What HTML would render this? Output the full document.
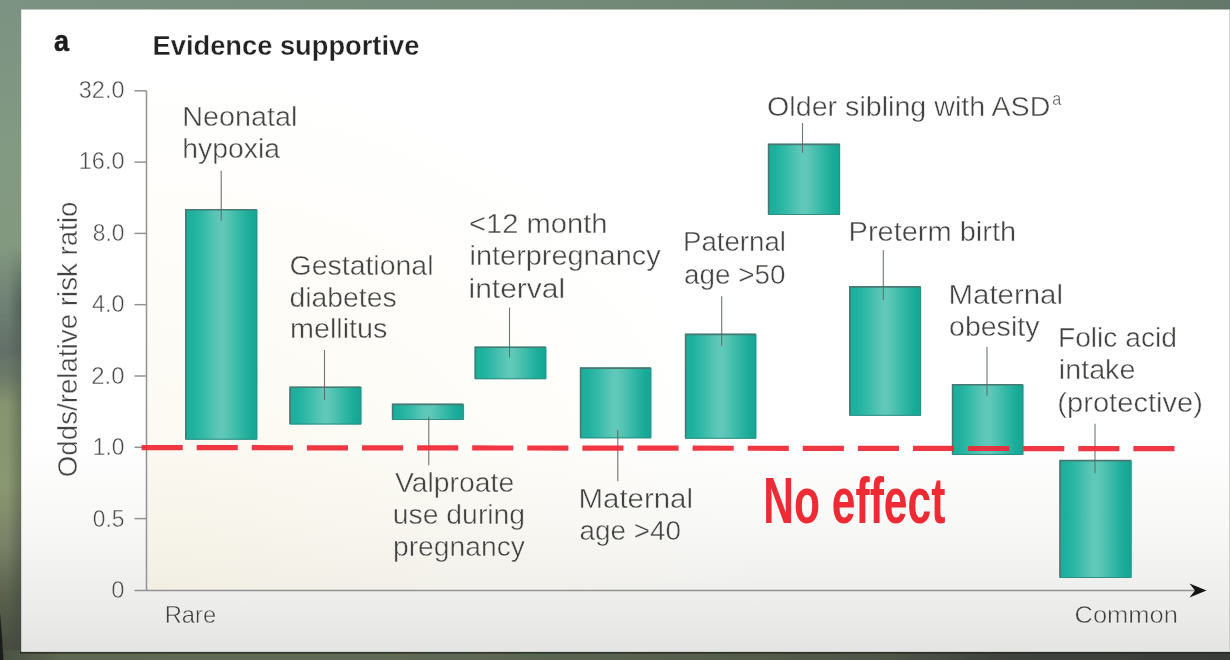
<!DOCTYPE html>
<html><head><meta charset="utf-8"><title>Evidence supportive</title>
<style>
html,body{margin:0;padding:0;background:#6f8373;}
body{width:1230px;height:660px;overflow:hidden;position:relative;font-family:"Liberation Sans",sans-serif;}
svg{position:absolute;left:0;top:0;display:block;}
text{font-family:"Liberation Sans",sans-serif;}
.l{fill:#434343;stroke:#fdfdfb;stroke-width:0.42;}
.k{fill:#4b4b4b;stroke:#fdfdfd;stroke-width:0.42;}
.b{fill:#222222;font-weight:bold;stroke:#ffffff;stroke-width:0.3;}
.ba{fill:#1c1c1c;font-weight:bold;stroke:#1c1c1c;stroke-width:0.5;}
</style></head><body>
<svg width="1230" height="660" viewBox="0 0 1230 660">
<defs>
<linearGradient id="bgTop" x1="0" y1="0" x2="1" y2="0">
 <stop offset="0" stop-color="#7b9283"/><stop offset="0.5" stop-color="#728977"/><stop offset="1" stop-color="#64786a"/>
</linearGradient>
<linearGradient id="bgLeft" x1="0" y1="0" x2="0" y2="1">
 <stop offset="0" stop-color="#7b9283"/>
 <stop offset="0.27" stop-color="#839a82"/>
 <stop offset="0.38" stop-color="#82987f"/>
 <stop offset="0.46" stop-color="#6f8174"/>
 <stop offset="0.53" stop-color="#616f68"/>
 <stop offset="0.57" stop-color="#6d7b68"/>
 <stop offset="0.61" stop-color="#86946f"/>
 <stop offset="0.73" stop-color="#8a9870"/>
 <stop offset="0.82" stop-color="#787f65"/>
 <stop offset="0.89" stop-color="#5a604d"/>
 <stop offset="1" stop-color="#41453a"/>
</linearGradient>
<linearGradient id="bgBot" x1="0" y1="0" x2="1" y2="0">
 <stop offset="0" stop-color="#474c40"/><stop offset="0.06" stop-color="#5d6953"/>
 <stop offset="0.3" stop-color="#5f6b56"/><stop offset="0.5" stop-color="#57624f"/>
 <stop offset="0.72" stop-color="#4d5547"/><stop offset="0.8" stop-color="#3f433d"/>
 <stop offset="1" stop-color="#393b39"/>
</linearGradient>
<linearGradient id="lshadow" x1="0" y1="0" x2="1" y2="0">
 <stop offset="0" stop-color="#3c463f" stop-opacity="0"/><stop offset="1" stop-color="#3c463f" stop-opacity="0.55"/>
</linearGradient>
<linearGradient id="lshadowV" x1="0" y1="0" x2="0" y2="1">
 <stop offset="0" stop-color="#fff" stop-opacity="0"/>
 <stop offset="0.37" stop-color="#fff" stop-opacity="0"/>
 <stop offset="0.46" stop-color="#fff" stop-opacity="1"/>
 <stop offset="0.55" stop-color="#fff" stop-opacity="0.4"/>
 <stop offset="0.60" stop-color="#fff" stop-opacity="0.7"/>
 <stop offset="1" stop-color="#fff" stop-opacity="0.9"/>
</linearGradient>
<mask id="lsm"><rect x="0" y="0" width="30" height="660" fill="url(#lshadowV)"/></mask>
<linearGradient id="card" x1="0" y1="0" x2="0" y2="1">
 <stop offset="0" stop-color="#ffffff"/><stop offset="0.66" stop-color="#ffffff"/>
 <stop offset="0.80" stop-color="#f8f8f7"/><stop offset="0.88" stop-color="#f1f1f0"/>
 <stop offset="0.93" stop-color="#ececeb"/><stop offset="1" stop-color="#e4e4e3"/>
</linearGradient>
<radialGradient id="cream" gradientUnits="userSpaceOnUse" cx="147" cy="590" r="1" gradientTransform="translate(147 590) scale(640 540) translate(-147 -590)">
 <stop offset="0" stop-color="#f5eed8" stop-opacity="0.50"/>
 <stop offset="0.5" stop-color="#f8f3e0" stop-opacity="0.29"/>
 <stop offset="1" stop-color="#fbf7e8" stop-opacity="0"/>
</radialGradient>
<linearGradient id="bar" x1="0" y1="0" x2="1" y2="0">
 <stop offset="0" stop-color="#1aae9b"/><stop offset="0.10" stop-color="#1eb19e"/>
 <stop offset="0.25" stop-color="#34baa8"/><stop offset="0.38" stop-color="#50c3b2"/>
 <stop offset="0.47" stop-color="#60c8b8"/><stop offset="0.53" stop-color="#60c8b8"/>
 <stop offset="0.62" stop-color="#50c2b1"/><stop offset="0.75" stop-color="#34b8a6"/>
 <stop offset="0.90" stop-color="#1aab98"/><stop offset="1" stop-color="#17a694"/>
</linearGradient>
<filter id="softall" filterUnits="userSpaceOnUse" x="-10" y="-10" width="1250" height="680"><feGaussianBlur stdDeviation="0.55"/></filter>
</defs>
<g filter="url(#softall)">
<rect x="-10" y="-10" width="1250" height="680" fill="#6f8373"/>
<rect x="-10" y="-10" width="1250" height="22" fill="url(#bgTop)"/>
<rect x="-10" y="-10" width="34" height="680" fill="url(#bgLeft)"/>
<rect x="8" y="0" width="14" height="660" fill="url(#lshadow)" mask="url(#lsm)"/>
<rect x="-10" y="650" width="1250" height="20" fill="url(#bgBot)"/>
<path d="M-10 612 L-10 670 L4 670 Q2.5 640 0 612 Z" fill="#1c1f1b"/>
<rect x="20" y="651" width="1220" height="2.6" fill="#23261f" opacity="0.8"/>
<rect x="21.2" y="9.5" width="1219" height="642.4" fill="url(#card)"/>
<rect x="1229" y="9.5" width="11" height="642" fill="#cfcfcf"/>
<rect x="147" y="87" width="720" height="503.5" fill="url(#cream)"/>
<g stroke="#939393" stroke-width="1.5" fill="none">
<path d="M146.5 90.8 V590.5"/>
<path d="M134.5 590.5 H1196"/>
<path d="M134.5 90.80 H146.5"/>
<path d="M134.5 162.10 H146.5"/>
<path d="M134.5 233.40 H146.5"/>
<path d="M134.5 304.70 H146.5"/>
<path d="M134.5 376.00 H146.5"/>
<path d="M134.5 447.30 H146.5"/>
<path d="M134.5 518.60 H146.5"/>
</g>
<path d="M1206.5 590.5 L1189.5 583.6 L1195 590.5 L1189.5 597.4 Z" fill="#151515"/>
<rect x="257.0" y="209.7" width="1.6" height="229.5" fill="#d4fdf8" opacity="0.75"/>
<rect x="185.2" y="209.2" width="72.0" height="230.5" fill="url(#bar)"/>
<path d="M185.8 439.2 V209.8 H256.7" fill="none" stroke="#4a7873" stroke-width="1.6"/>
<path d="M256.8 209.8 V439.2 H185.8" fill="none" stroke="#2f8f85" stroke-width="1.0"/>
<rect x="361.1" y="387.2" width="1.6" height="36.8" fill="#d4fdf8" opacity="0.75"/>
<rect x="289.5" y="386.7" width="71.8" height="37.8" fill="url(#bar)"/>
<path d="M290.1 424.0 V387.3 H360.8" fill="none" stroke="#4a7873" stroke-width="1.6"/>
<path d="M360.9 387.3 V424.0 H290.1" fill="none" stroke="#2f8f85" stroke-width="1.0"/>
<rect x="463.5" y="404.3" width="1.6" height="15.2" fill="#d4fdf8" opacity="0.75"/>
<rect x="392.0" y="403.8" width="71.7" height="16.2" fill="url(#bar)"/>
<path d="M392.6 419.5 V404.4 H463.2" fill="none" stroke="#4a7873" stroke-width="1.6"/>
<path d="M463.3 404.4 V419.5 H392.6" fill="none" stroke="#2f8f85" stroke-width="1.0"/>
<rect x="546.0" y="347.2" width="1.6" height="31.5" fill="#d4fdf8" opacity="0.75"/>
<rect x="474.7" y="346.7" width="71.5" height="32.5" fill="url(#bar)"/>
<path d="M475.3 378.7 V347.3 H545.7" fill="none" stroke="#4a7873" stroke-width="1.6"/>
<path d="M545.8 347.3 V378.7 H475.3" fill="none" stroke="#2f8f85" stroke-width="1.0"/>
<rect x="651.0" y="368.0" width="1.6" height="69.8" fill="#d4fdf8" opacity="0.75"/>
<rect x="580.0" y="367.5" width="71.2" height="70.8" fill="url(#bar)"/>
<path d="M580.6 437.8 V368.1 H650.7" fill="none" stroke="#4a7873" stroke-width="1.6"/>
<path d="M650.8 368.1 V437.8 H580.6" fill="none" stroke="#2f8f85" stroke-width="1.0"/>
<rect x="756.0" y="334.3" width="1.6" height="103.9" fill="#d4fdf8" opacity="0.75"/>
<rect x="685.0" y="333.8" width="71.2" height="104.9" fill="url(#bar)"/>
<path d="M685.6 438.2 V334.4 H755.7" fill="none" stroke="#4a7873" stroke-width="1.6"/>
<path d="M755.8 334.4 V438.2 H685.6" fill="none" stroke="#2f8f85" stroke-width="1.0"/>
<rect x="839.8" y="144.3" width="1.6" height="70.2" fill="#d4fdf8" opacity="0.75"/>
<rect x="768.0" y="143.8" width="72.0" height="71.2" fill="url(#bar)"/>
<path d="M768.6 214.5 V144.4 H839.5" fill="none" stroke="#4a7873" stroke-width="1.6"/>
<path d="M839.6 144.4 V214.5 H768.6" fill="none" stroke="#2f8f85" stroke-width="1.0"/>
<rect x="920.8" y="286.8" width="1.6" height="128.5" fill="#d4fdf8" opacity="0.75"/>
<rect x="849.2" y="286.3" width="71.8" height="129.5" fill="url(#bar)"/>
<path d="M849.8 415.3 V286.9 H920.5" fill="none" stroke="#4a7873" stroke-width="1.6"/>
<path d="M920.6 286.9 V415.3 H849.8" fill="none" stroke="#2f8f85" stroke-width="1.0"/>
<rect x="1023.1" y="384.7" width="1.6" height="69.8" fill="#d4fdf8" opacity="0.75"/>
<rect x="952.0" y="384.2" width="71.3" height="70.8" fill="url(#bar)"/>
<path d="M952.6 454.5 V384.8 H1022.8" fill="none" stroke="#4a7873" stroke-width="1.6"/>
<path d="M1022.9 384.8 V454.5 H952.6" fill="none" stroke="#2f8f85" stroke-width="1.0"/>
<rect x="1131.3" y="460.5" width="1.6" height="117.0" fill="#d4fdf8" opacity="0.75"/>
<rect x="1059.5" y="460.0" width="72.0" height="118.0" fill="url(#bar)"/>
<path d="M1060.1 577.5 V460.6 H1131.0" fill="none" stroke="#4a7873" stroke-width="1.6"/>
<path d="M1131.1 460.6 V577.5 H1060.1" fill="none" stroke="#2f8f85" stroke-width="1.0"/>
<g stroke="#5f6666" stroke-width="1.1" fill="none" opacity="0.9">
<path d="M221.2 170.8 V220.8"/>
<path d="M324.5 350.0 V400.0"/>
<path d="M428.8 416.7 V465.3"/>
<path d="M509.5 307.5 V357.5"/>
<path d="M617.8 430.0 V481.2"/>
<path d="M721.7 296.2 V345.8"/>
<path d="M802.5 123.0 V152.8"/>
<path d="M883.3 250.0 V300.0"/>
<path d="M987.0 346.7 V395.8"/>
<path d="M1095.0 423.8 V473.3"/>
</g>
<path d="M141.6 447.6 L1174.5 448.7" stroke="#ef2836" stroke-opacity="0.93" stroke-width="5.2" stroke-linecap="butt" stroke-dasharray="41.1 14" fill="none"/>
<text id="noeffect" x="763.3" y="522.7" font-size="64" font-weight="bold" fill="#ee2b36" textLength="182" lengthAdjust="spacingAndGlyphs">No effect</text>
<g>
<text id="t_a" class="ba" x="54.12" y="50.60" font-size="29.0" textLength="15.02" lengthAdjust="spacingAndGlyphs">a</text>
<text id="t_title" class="b" x="152.59" y="55.30" font-size="27.0" textLength="266.79" lengthAdjust="spacingAndGlyphs">Evidence supportive</text>
<text id="k32" class="k" x="78.83" y="97.50" font-size="23.4" textLength="45.65" lengthAdjust="spacingAndGlyphs">32.0</text>
<text id="k16" class="k" x="78.78" y="169.00" font-size="23.4" textLength="45.74" lengthAdjust="spacingAndGlyphs">16.0</text>
<text id="k8" class="k" x="92.86" y="240.50" font-size="23.4" textLength="31.62" lengthAdjust="spacingAndGlyphs">8.0</text>
<text id="k4" class="k" x="91.94" y="312.00" font-size="23.4" textLength="32.52" lengthAdjust="spacingAndGlyphs">4.0</text>
<text id="k2" class="k" x="91.36" y="383.50" font-size="23.4" textLength="33.17" lengthAdjust="spacingAndGlyphs">2.0</text>
<text id="k1" class="k" x="92.85" y="455.00" font-size="23.4" textLength="31.71" lengthAdjust="spacingAndGlyphs">1.0</text>
<text id="k05" class="k" x="92.85" y="526.50" font-size="23.4" textLength="31.64" lengthAdjust="spacingAndGlyphs">0.5</text>
<text id="k0" class="k" x="111.34" y="598.00" font-size="23.4" textLength="13.27" lengthAdjust="spacingAndGlyphs">0</text>
<text id="neo1" class="l" x="182.31" y="125.90" font-size="27.0" textLength="115.17" lengthAdjust="spacingAndGlyphs">Neonatal</text>
<text id="neo2" class="l" x="182.31" y="157.90" font-size="27.0" textLength="97.69" lengthAdjust="spacingAndGlyphs">hypoxia</text>
<text id="ges1" class="l" x="289.54" y="274.90" font-size="27.0" textLength="143.98" lengthAdjust="spacingAndGlyphs">Gestational</text>
<text id="ges2" class="l" x="289.57" y="306.70" font-size="27.0" textLength="107.05" lengthAdjust="spacingAndGlyphs">diabetes</text>
<text id="ges3" class="l" x="290.04" y="338.40" font-size="27.0" textLength="97.41" lengthAdjust="spacingAndGlyphs">mellitus</text>
<text id="int1" class="l" x="469.07" y="232.90" font-size="27.0" textLength="138.49" lengthAdjust="spacingAndGlyphs">&lt;12 month</text>
<text id="int2" class="l" x="469.59" y="265.40" font-size="27.0" textLength="191.01" lengthAdjust="spacingAndGlyphs">interpregnancy</text>
<text id="int3" class="l" x="468.53" y="297.60" font-size="27.0" textLength="96.63" lengthAdjust="spacingAndGlyphs">interval</text>
<text id="val1" class="l" x="394.90" y="492.40" font-size="27.0" textLength="119.26" lengthAdjust="spacingAndGlyphs">Valproate</text>
<text id="val2" class="l" x="392.80" y="524.20" font-size="27.0" textLength="132.34" lengthAdjust="spacingAndGlyphs">use during</text>
<text id="val3" class="l" x="392.97" y="556.20" font-size="27.0" textLength="132.03" lengthAdjust="spacingAndGlyphs">pregnancy</text>
<text id="mat1" class="l" x="578.50" y="507.90" font-size="27.0" textLength="114.48" lengthAdjust="spacingAndGlyphs">Maternal</text>
<text id="mat2" class="l" x="579.43" y="540.40" font-size="27.0" textLength="101.55" lengthAdjust="spacingAndGlyphs">age &gt;40</text>
<text id="pat1" class="l" x="683.01" y="251.20" font-size="27.0" textLength="102.97" lengthAdjust="spacingAndGlyphs">Paternal</text>
<text id="pat2" class="l" x="684.01" y="283.70" font-size="27.0" textLength="101.42" lengthAdjust="spacingAndGlyphs">age &gt;50</text>
<text id="old1" class="l" x="767.08" y="115.70" font-size="27.0" textLength="283.34" lengthAdjust="spacingAndGlyphs">Older sibling with ASD</text>
<text id="old2" class="l" x="1052.30" y="105.40" font-size="17.5" textLength="9.02" lengthAdjust="spacingAndGlyphs">a</text>
<text id="pre1" class="l" x="848.58" y="241.20" font-size="27.0" textLength="167.50" lengthAdjust="spacingAndGlyphs">Preterm birth</text>
<text id="obe1" class="l" x="948.50" y="303.70" font-size="27.0" textLength="114.48" lengthAdjust="spacingAndGlyphs">Maternal</text>
<text id="obe2" class="l" x="949.06" y="335.70" font-size="27.0" textLength="90.36" lengthAdjust="spacingAndGlyphs">obesity</text>
<text id="fol1" class="l" x="1057.93" y="347.40" font-size="27.0" textLength="119.14" lengthAdjust="spacingAndGlyphs">Folic acid</text>
<text id="fol2" class="l" x="1058.89" y="379.20" font-size="27.0" textLength="76.55" lengthAdjust="spacingAndGlyphs">intake</text>
<text id="fol3" class="l" x="1057.37" y="412.10" font-size="27.0" textLength="145.59" lengthAdjust="spacingAndGlyphs">(protective)</text>
<text id="rare" class="l" x="164.70" y="622.60" font-size="24.0" textLength="51.52" lengthAdjust="spacingAndGlyphs">Rare</text>
<text id="comm" class="l" x="1074.54" y="622.60" font-size="24.0" textLength="103.43" lengthAdjust="spacingAndGlyphs">Common</text>
<text id="ylab" class="l" x="0" y="0" font-size="27.0" textLength="275.71" lengthAdjust="spacingAndGlyphs" transform="translate(77.3 477.23) rotate(-90)">Odds/relative risk ratio</text>
</g>
</g>
</svg>
</body></html>
